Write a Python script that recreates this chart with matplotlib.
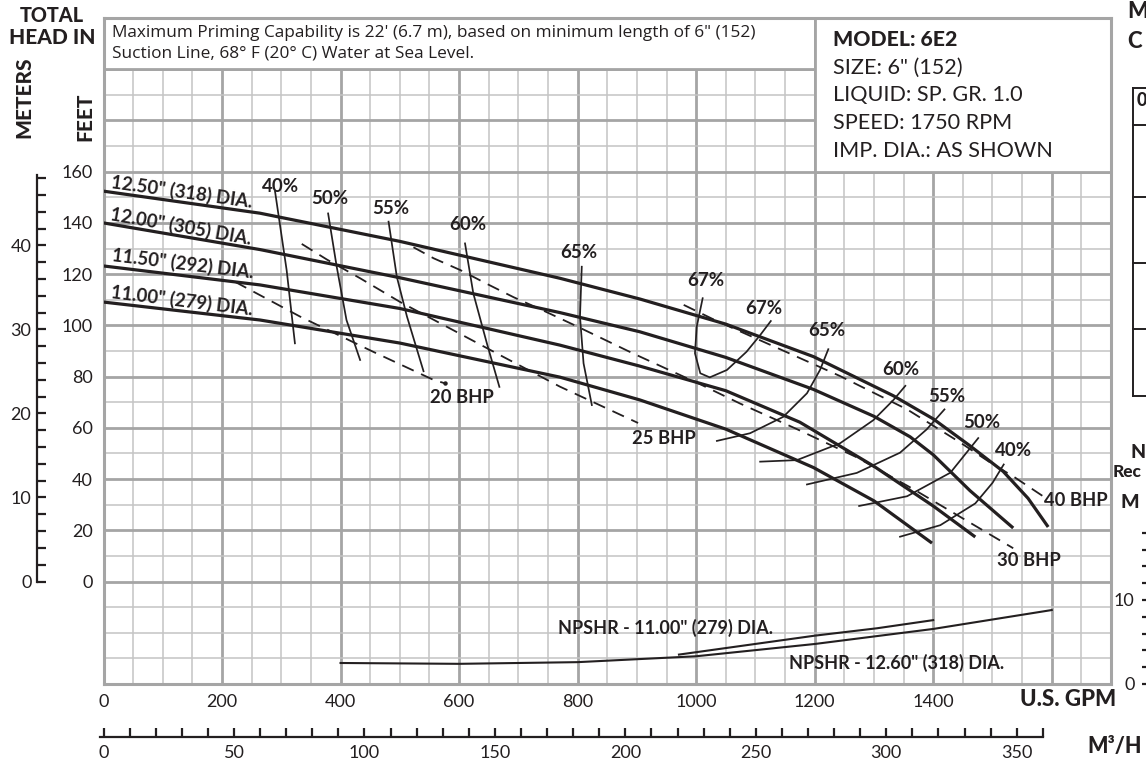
import numpy as np
import matplotlib
matplotlib.use("Agg")
import matplotlib.pyplot as plt
from matplotlib.patches import Rectangle
from matplotlib.lines import Line2D
from matplotlib.ticker import FixedLocator

plt.rcParams['font.family'] = ['Lato', 'DejaVu Sans']

# ---------------- data ----------------
GPM_TICKS = [0, 200, 400, 600, 800, 1000, 1200, 1400]
FT_TICKS = [0, 20, 40, 60, 80, 100, 120, 140, 160]
M_TICKS = [0, 10, 20, 30, 40]
M3H_TICKS = [0, 50, 100, 150, 200, 250, 300, 350]
NPSH_TICKS = [0, 10]

# head curves (GPM, ft)
q_1250 = [0, 264, 500, 770, 905, 1050, 1198, 1333, 1400, 1462, 1518, 1560, 1594]
h_1250 = [152.4, 143.8, 132.8, 118.4, 110.3, 100.5, 87.8, 72.5, 63.5, 53.0, 43.0, 32.5, 21.3]
q_1200 = [0, 264, 500, 770, 905, 1050, 1198, 1300, 1361, 1400, 1462, 1535]
h_1200 = [140.0, 129.6, 118.6, 105.0, 97.5, 87.5, 75.0, 64.5, 56.5, 49.5, 35.5, 20.9]
q_1150 = [0, 264, 500, 770, 905, 1050, 1175, 1300, 1400, 1471]
h_1150 = [123.2, 115.8, 106.6, 92.3, 84.1, 74.5, 62.2, 45.0, 29.5, 17.4]
q_1100 = [0, 264, 500, 770, 905, 1050, 1198, 1300, 1398]
h_1100 = [109.1, 102.1, 93.1, 79.8, 70.9, 59.5, 44.5, 31.5, 15.0]
dia_labels = ['12.50" (318) DIA.', '12.00" (305) DIA.', '11.50" (292) DIA.', '11.00" (279) DIA.']

# efficiency curves (GPM, ft)
e40a_q = [289.5, 309, 323];            e40a_h = [152.2, 121.6, 93.0]
e50a_q = [379, 393.5, 410, 433];       e50a_h = [143.7, 122.9, 102.1, 86.5]
e55a_q = [481, 495, 512, 540];         e55a_h = [140.5, 118.9, 103.5, 82.1]
e60a_q = [610, 624, 647, 668];         e60a_h = [132.0, 112.5, 92.9, 76.0]
e65a_q = [807, 804, 810, 824];         e65a_h = [122.9, 103.5, 85.2, 68.9]
e67_q = [1011, 1001, 998, 1007, 1023, 1052, 1085, 1108, 1126]
e67_h = [110.6, 99.5, 89.1, 81.3, 79.7, 82.6, 89.7, 96.2, 101.7]
e65b_q = [1035, 1091, 1147, 1187, 1209, 1223]; e65b_h = [54.9, 57.9, 64.3, 73.5, 82.6, 90.7]
e60b_q = [1108, 1170, 1243, 1299, 1333, 1353]; e60b_h = [46.8, 47.4, 54.0, 63.0, 70.9, 76.4]
e55b_q = [1187, 1271, 1344, 1389, 1419];       e55b_h = [37.9, 42.4, 50.3, 59.4, 67.2]
e50b_q = [1275, 1356, 1429, 1476];             e50b_h = [29.5, 33.3, 42.5, 56.0]
e40b_q = [1344, 1412, 1471, 1500, 1519];       e40b_h = [17.5, 22.0, 30.5, 38.5, 45.7]
eff_labels = ['40%', '50%', '55%', '60%', '65%', '67%', '67%', '65%', '60%', '55%', '50%', '40%']

# brake horsepower lines (GPM, ft)
b20_q = [222, 332, 455, 557, 576];   b20_h = [117.0, 103.4, 89.7, 78.7, 77.4]
b25_q = [334.5, 377, 433, 500, 579, 669, 770, 902]
b25_h = [131.8, 125.7, 118.4, 109.2, 99.5, 88.4, 76.1, 61.9]
b30_q = [523, 557, 602, 647, 692, 742, 800, 894, 1007, 1074, 1170, 1271, 1367, 1535]
b30_h = [130.5, 126.2, 121.6, 116.2, 111.0, 105.8, 99.5, 89.0, 77.0, 69.5, 59.5, 48.5, 36.0, 13.0]
b40_q = [979, 1035, 1130, 1243, 1356, 1446, 1496, 1538, 1586]
b40_h = [108.0, 101.7, 91.9, 80.2, 67.2, 54.2, 46.5, 40.6, 33.2]
bhp_labels = ['20 BHP', '25 BHP', '30 BHP', '40 BHP']

# NPSHR (GPM, m)
n1260_q = [400, 600, 800, 1000, 1200, 1400, 1600]
n1260_m = [2.5, 2.4, 2.6, 3.3, 4.76, 6.55, 8.8]
n1100_q = [971, 1200, 1305, 1400]
n1100_m = [3.5, 5.75, 6.63, 7.6]

# ---------------- figure ----------------
W, H = 1146, 763
INK = '#231f20'
GMAJ = '#a5a5a5'
GMIN = '#c4c4c4'
FT_PER_M = 3.28084
GPM_PER_M3H = 4.402868

fig = plt.figure(figsize=(W / 100, H / 100), dpi=100)
L, R, T, B = 103.5, 1111, 18, 684
rect = [L / W, 1 - B / H, (R - L) / W, (B - T) / H]


def P(x, y):
    return x / W, 1 - y / H


ax = fig.add_axes(rect)
ax.set_xlim(0, 1700)
ax.set_ylim(-40, 220)

# grid
for x in np.arange(50, 1700, 50):
    major = (x % 200 == 0)
    ax.axvline(x, color=GMAJ if major else GMIN, lw=2.0 if major else 1.1, zorder=0.5)
for y in np.arange(-30, 220, 10):
    major = (y >= 0 and y % 20 == 0)
    ax.axhline(y, color=GMAJ if major else GMIN, lw=2.0 if major else 1.1, zorder=0.5)
for s in ax.spines.values():
    s.set_color(GMAJ)
    s.set_linewidth(2.2)

ax.set_xticks(GPM_TICKS)
ax.set_xticklabels([str(v) for v in GPM_TICKS])
ax.set_yticks(FT_TICKS)
ax.set_yticklabels([str(v) for v in FT_TICKS])
ax.tick_params(axis='both', length=0, labelsize=13, colors=INK)
ax.tick_params(axis='x', pad=7.5)
ax.tick_params(axis='y', pad=7.5)

# boxes
ax.add_patch(Rectangle((0, 200), 1200, 20, facecolor='white', edgecolor=GMAJ, lw=2.0, zorder=2))
ax.add_patch(Rectangle((1200, 160), 500, 60, facecolor='white', edgecolor=GMAJ, lw=2.0, zorder=2))

# head curves
for q, h in [(q_1250, h_1250), (q_1200, h_1200), (q_1150, h_1150), (q_1100, h_1100)]:
    ax.plot(q, h, color=INK, lw=2.3, zorder=4, solid_capstyle='butt', solid_joinstyle='round')

# efficiency
effs = [(e40a_q, e40a_h), (e50a_q, e50a_h), (e55a_q, e55a_h), (e60a_q, e60a_h), (e65a_q, e65a_h),
        (e67_q, e67_h), (e65b_q, e65b_h), (e60b_q, e60b_h), (e55b_q, e55b_h), (e50b_q, e50b_h),
        (e40b_q, e40b_h)]
for q, h in effs:
    ax.plot(q, h, color=INK, lw=1.25, zorder=3, solid_joinstyle='round')

# BHP dashed
for q, h in [(b20_q, b20_h), (b25_q, b25_h), (b30_q, b30_h), (b40_q, b40_h)]:
    ax.plot(q, h, color=INK, lw=1.3, zorder=3, linestyle=(0, (7, 4.5)))
ax.plot([b20_q[-1]], [b20_h[-1]], 'o', color=INK, ms=2.2, zorder=3)

# NPSHR
axn = ax.twinx()
axn.set_ylim(0, 260 / FT_PER_M)
axn.axis('off')
axn.plot(n1260_q, n1260_m, color=INK, lw=1.5)
axn.plot(n1100_q, n1100_m, color=INK, lw=1.5)

# meters axis (left)
axm = fig.add_axes(rect, facecolor='none')
axm.set_ylim(-40 / FT_PER_M, 220 / FT_PER_M)
axm.xaxis.set_visible(False)
for s in ['top', 'right', 'bottom']:
    axm.spines[s].set_visible(False)
axm.spines['left'].set_position(('outward', (L - 37) * 0.72))
axm.spines['left'].set_bounds(0, 48.4)
axm.spines['left'].set_linewidth(1.6)
axm.spines['left'].set_color(INK)
axm.set_yticks(M_TICKS)
axm.set_yticklabels([str(v) for v in M_TICKS])
axm.yaxis.set_minor_locator(FixedLocator([v for v in range(0, 49, 2) if v % 10]))
axm.tick_params(axis='y', which='both', direction='in', length=6.5, width=1.6, colors=INK,
                labelsize=13, pad=4)

# m3/h axis (bottom)
axq = fig.add_axes(rect, facecolor='none')
axq.set_xlim(0, 1700 / GPM_PER_M3H)
axq.yaxis.set_visible(False)
for s in ['top', 'right', 'left']:
    axq.spines[s].set_visible(False)
axq.spines['bottom'].set_position(('outward', (737 - B) * 0.72))
axq.spines['bottom'].set_bounds(-1.5, 360)
axq.spines['bottom'].set_linewidth(1.6)
axq.spines['bottom'].set_color(INK)
axq.set_xticks(M3H_TICKS)
axq.set_xticklabels([str(v) for v in M3H_TICKS])
axq.xaxis.set_minor_locator(FixedLocator([v for v in range(0, 361, 10) if v % 50]))
axq.tick_params(axis='x', which='both', direction='in', length=6.5, width=1.6, colors=INK,
                labelsize=13, pad=5.5)

# NPSHR axis (right, cut off)
axr = fig.add_axes([1148 / W, 1 - B / H, 0.02, (B - T) / H], facecolor='none')
axr.set_ylim(0, 260 / FT_PER_M)
axr.xaxis.set_visible(False)
for s in ['top', 'right', 'bottom']:
    axr.spines[s].set_visible(False)
axr.spines['left'].set_bounds(0, 18)
axr.spines['left'].set_linewidth(1.6)
axr.spines['left'].set_color(INK)
axr.set_yticks(NPSH_TICKS)
axr.set_yticklabels([str(v) for v in NPSH_TICKS])
axr.yaxis.set_minor_locator(FixedLocator([v for v in range(2, 19, 2) if v % 10]))
axr.tick_params(axis='y', which='both', direction='out', length=4.3, width=1.6, colors=INK,
                labelsize=13, pad=5.5)

# ---------------- texts ----------------
def T_(x, y, s, size=12.5, weight='bold', ha='center', va='center', rot=0, **kw):
    fig.text(*P(x, y), s, fontsize=size, fontweight=weight, ha=ha, va=va, rotation=rot,
             color=INK, rotation_mode='anchor', **kw)

T_(52, 15, 'TOTAL', 14.3, 'black')
T_(52, 37, 'HEAD IN', 15, 'black')
T_(24, 97, 'METERS', 15, 'black', rot=90)
T_(85, 117, 'FEET', 15, 'black', rot=90)
T_(1068, 700, 'U.S. GPM', 16, 'black')
T_(1115, 747, 'M³/H', 15.5, 'black')

T_(112, 33, "Maximum Priming Capability is 22' (6.7 m), based on minimum length of 6\" (152)",
   12.4, 'normal', ha='left', family=['Open Sans', 'DejaVu Sans'])
T_(112, 54, 'Suction Line, 68° F (20° C) Water at Sea Level.', 12.4, 'normal', ha='left',
   family=['Open Sans', 'DejaVu Sans'])

T_(833, 40, 'MODEL: 6E2', 15.3, 'black', ha='left')
for i, s in enumerate(['SIZE: 6" (152)', 'LIQUID: SP. GR. 1.0', 'SPEED: 1750 RPM', 'IMP. DIA.: AS SHOWN']):
    T_(833, 67.5 + 27.7 * i, s, 15.6, 'normal', ha='left')

# diameter labels
for s, (x, y, r) in zip(dia_labels, [(182, 191.5, -8), (181, 226, -10), (183, 264, -7), (182, 301, -7)]):
    T_(x, y, s, 13.3, 'bold', rot=r)

eff_pos = [(281, 186), (330, 199), (391, 208), (468, 225), (579, 252), (706, 280), (764, 308),
           (827, 330), (901, 370), (947, 397), (982, 422), (1014, 450)]
for s, (x, y) in zip(eff_labels, eff_pos):
    T_(x, y, s, 13.5, 'bold')

for s, (x, y) in zip(bhp_labels, [(462, 398), (664, 438), (1029, 560), (1076, 501)]):
    T_(x, y, s, 13.2, 'bold')

T_(665, 628, 'NPSHR - 11.00" (279) DIA.', 13, 'bold')
T_(897, 663, 'NPSHR - 12.60" (318) DIA.', 13, 'bold')

# neighbouring chart fragments at right edge
T_(1127, 12, 'M', 16, 'black', ha='left')
T_(1127, 42, 'C', 16, 'black', ha='left')
T_(1130, 452, 'N', 14, 'black', ha='left')
T_(1113, 472, 'Rec', 12.5, 'black', ha='left')
T_(1120, 503, 'M', 14, 'black', ha='left')
T_(1137, 100, '0', 13, 'black', ha='left')
for (x0, y0, x1, y1) in [(1133, 88, 1146, 88), (1133, 88, 1133, 396), (1133, 396, 1146, 396),
                         (1133, 125, 1146, 125), (1133, 197, 1146, 197), (1133, 263, 1146, 263),
                         (1133, 329, 1146, 329)]:
    fig.add_artist(Line2D([x0 / W, x1 / W], [1 - y0 / H, 1 - y1 / H], transform=fig.transFigure,
                          color=INK, lw=1.4))

fig.savefig('out.png', dpi=100)
